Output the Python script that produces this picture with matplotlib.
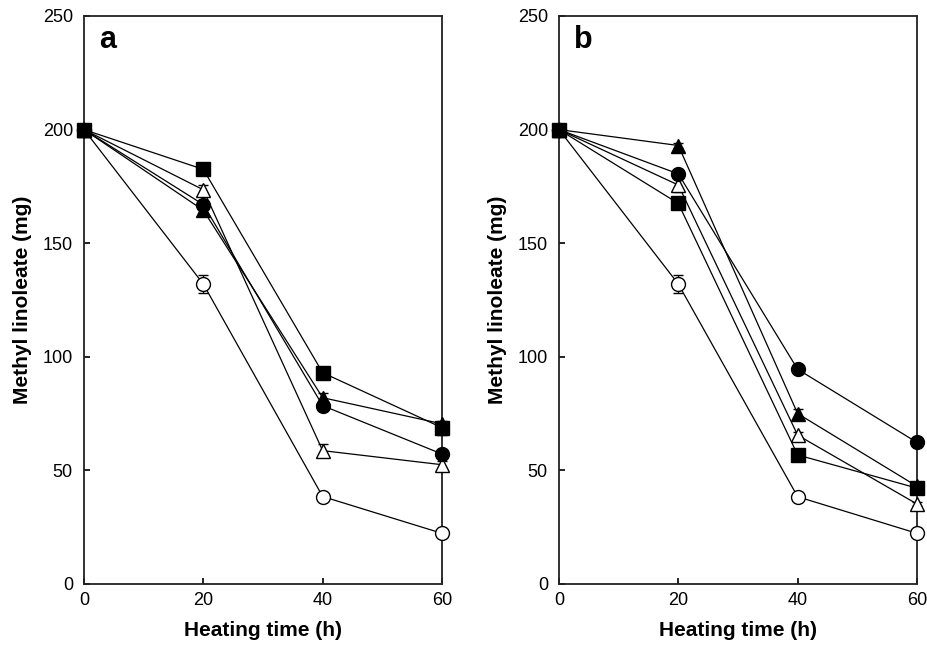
import matplotlib
matplotlib.use("Agg")
import matplotlib.pyplot as plt

plt.rcParams['font.family'] = ['Liberation Sans', 'DejaVu Sans']

time_h = [0, 20, 40, 60]

# Panel a
a_open_circle = [200, 132, 38.5, 22.3]
a_open_circle_err = [0, 4, 1, 1]
a_open_tri = [200, 173.5, 58.7, 52.5]
a_open_tri_err = [0, 2, 3, 1.5]
a_fill_circle = [200, 167, 78.5, 57.2]
a_fill_circle_err = [0, 1, 1, 1]
a_fill_tri = [200, 164.5, 82, 70.5]
a_fill_tri_err = [0, 1, 2, 1]
a_square = [200, 182.5, 93, 68.8]
a_square_err = [0, 1, 1, 3]

# Panel b
b_open_circle = [200, 132, 38.4, 22.3]
b_open_circle_err = [0, 4, 1, 1.5]
b_open_tri = [200, 175.6, 65.5, 35.2]
b_open_tri_err = [0, 3, 1.5, 1]
b_fill_circle = [200, 180.5, 94.5, 62.3]
b_fill_circle_err = [0, 1, 1, 1]
b_fill_tri = [200, 193, 75, 43]
b_fill_tri_err = [0, 1, 2, 1]
b_square = [200, 167.5, 56.8, 42.2]
b_square_err = [0, 1, 1, 1]

yticks = [0, 50, 100, 150, 200, 250]
xticks = [0, 20, 40, 60]

fig = plt.figure(figsize=(9.28, 6.46), dpi=100)
ax_a = fig.add_axes([84/928, 1-584/646, 358/928, 568/646])
ax_b = fig.add_axes([559/928, 1-584/646, 358/928, 568/646])

def draw(ax, series, label):
    for vals, err, marker, face in series:
        ax.errorbar(time_h, vals, yerr=err, color='black', lw=0.9,
                    marker=marker, markersize=10,
                    markerfacecolor=face, markeredgecolor='black',
                    markeredgewidth=1.0, capsize=3.5, elinewidth=0.9,
                    capthick=0.9, clip_on=False, zorder=3)
    ax.set_xlim(0, 60)
    ax.set_ylim(0, 250)
    ax.set_xticks(xticks)
    ax.set_yticks(yticks)
    ax.tick_params(direction='in', length=4, width=1.2, labelsize=13)
    ax.tick_params(axis='y', pad=8)
    ax.tick_params(axis='x', pad=6)
    for s in ax.spines.values():
        s.set_linewidth(1.3)
        s.set_color('#222222')
    ax.set_xlabel('Heating time (h)', fontsize=15, fontweight='bold')
    ax.xaxis.set_label_coords(0.5, -0.066)
    ax.set_ylabel('Methyl linoleate (mg)', fontsize=15, fontweight='bold',
                  ha='center', va='center')
    ax.yaxis.set_label_coords(-0.173, 0.5)
    ax.text(0.042, 0.9445, label, transform=ax.transAxes, fontsize=22,
            fontweight='bold', va='baseline', ha='left')

draw(ax_a, [
    (a_open_circle, a_open_circle_err, 'o', 'white'),
    (a_open_tri, a_open_tri_err, '^', 'white'),
    (a_fill_circle, a_fill_circle_err, 'o', 'black'),
    (a_fill_tri, a_fill_tri_err, '^', 'black'),
    (a_square, a_square_err, 's', 'black'),
], 'a')

draw(ax_b, [
    (b_open_circle, b_open_circle_err, 'o', 'white'),
    (b_open_tri, b_open_tri_err, '^', 'white'),
    (b_fill_circle, b_fill_circle_err, 'o', 'black'),
    (b_fill_tri, b_fill_tri_err, '^', 'black'),
    (b_square, b_square_err, 's', 'black'),
], 'b')

fig.savefig('out.png', dpi=100)
